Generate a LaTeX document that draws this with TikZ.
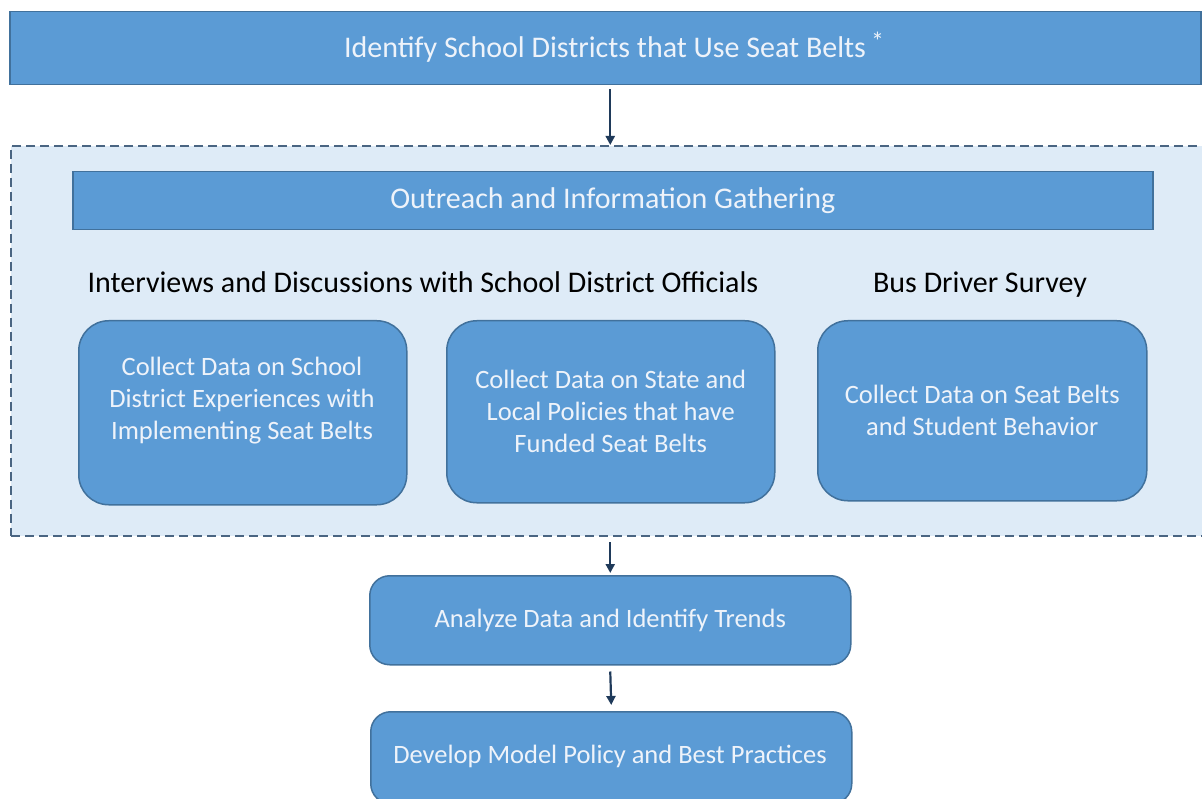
\documentclass[tikz,border=0pt]{standalone}
\usepackage{fontspec}
\setmainfont{Carlito}
\usetikzlibrary{arrows.meta}
\definecolor{boxfill}{HTML}{5B9BD5}
\definecolor{boxedge}{HTML}{41719C}
\definecolor{regfill}{HTML}{DEEBF7}
\definecolor{dashc}{HTML}{4A6582}
\definecolor{arrc}{HTML}{1F3A5A}
\definecolor{txt}{HTML}{EEF3FA}
\tikzset{
  x=1pt, y=-1pt,
  sqbox/.style={draw=boxedge, line width=1.5pt, fill=boxfill, text=txt, inner sep=0pt, anchor=north west},
  boxtext/.style={font=\fontsize{26.5}{32}\selectfont},
  rbox/.style={sqbox, rounded corners=30pt, align=center, boxtext},
  rbox2/.style={sqbox, rounded corners=20pt, align=center, boxtext},
  heading/.style={font=\fontsize{30}{32}\selectfont, text=black, inner sep=0pt, anchor=base},
  arr/.style={draw=arrc, line width=2.2pt, -{Triangle[width=9pt,length=9pt]}},
}
\begin{document}
\begin{tikzpicture}
\useasboundingbox (0,0) rectangle (1202,799);
\fill[white] (0,0) rectangle (1202,799);
% top box
\node[sqbox, minimum width=1191pt, minimum height=73pt] (top) at (9,11) {};
\node[font=\fontsize{30}{32}\selectfont, text=txt, inner sep=0pt] (toptext) at (614,47) {Identify School Districts that Use Seat Belts\,\raisebox{0.25em}{\fontsize{26}{26}\selectfont *}};
% region
\node[draw=dashc, line width=2pt, dash pattern=on 9pt off 5pt, fill=regfill, minimum width=1196pt, minimum height=390pt, inner sep=0pt, anchor=north west] (region) at (10,145) {};
% outreach
\node[sqbox, minimum width=1080pt, minimum height=58pt, font=\fontsize{30}{32}\selectfont] (outreach) at (72,171) {Outreach and Information Gathering};
% headings
\node[heading] (h1) at (423,293) {Interviews and Discussions with School District Officials};
\node[heading] (h2) at (980,293) {Bus Driver Survey};
% three boxes
\node[rbox, minimum width=328pt, minimum height=184pt] (b1) at (78,320) {};
\node[align=center, boxtext, text=txt, inner sep=0pt] (t1) at (242,401) {Collect Data on School\\District Experiences with\\Implementing Seat Belts};
\node[rbox, minimum width=328pt, minimum height=182pt] (b2) at (446,320) {Collect Data on State and\\Local Policies that have\\Funded Seat Belts};
\node[rbox, minimum width=329pt, minimum height=180pt] (b3) at (817,320) {Collect Data on Seat Belts\\and Student Behavior};
% lower boxes
\node[rbox2, minimum width=481pt, minimum height=89pt] (an) at (369,575) {Analyze Data and Identify Trends};
\node[rbox2, minimum width=481pt, minimum height=92pt] (dev) at (370,711) {};
\node[boxtext, text=txt, inner sep=0pt] (devt) at (610,756) {Develop Model Policy and Best Practices};
% arrows
\coordinate (a1s) at ([yshift=-4pt]top.south -| an.north);
\draw[arr] (a1s) -- (region.north -| an.north);
\coordinate (a2s) at ([yshift=-5pt]region.south -| an.north);
\draw[arr] (a2s) -- ([yshift=2pt]an.north);
\coordinate (a3s) at ([yshift=-6pt]an.south);
\draw[arr] (a3s) -- ([yshift=6pt]dev.north);
\end{tikzpicture}
\end{document}
